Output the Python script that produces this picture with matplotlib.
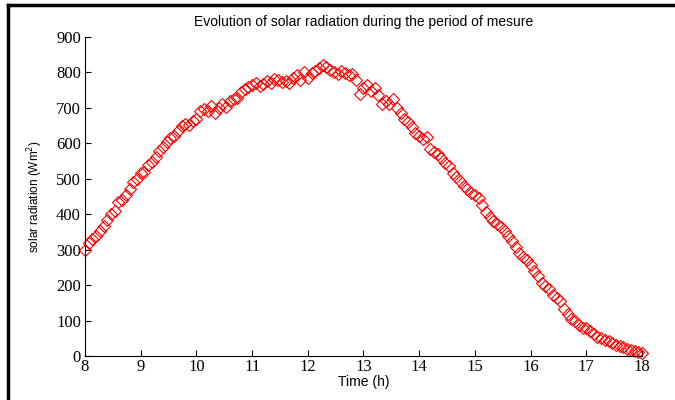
import matplotlib.pyplot as plt
from matplotlib.lines import Line2D

# -----------------------------
# Data (4 min steps from 8h to 18h)
# -----------------------------
time_h = [8 + i / 15 for i in range(151)]
radiation = [
    300, 318, 330, 338, 352, 368, 383, 400, 410, 435,
    440, 455, 470, 490, 500, 515, 520, 540, 548, 562,
    578, 590, 605, 615, 622, 635, 650, 655, 652, 662,
    668, 690, 698, 692, 705, 685, 700, 710, 702, 720,
    725, 728, 745, 752, 758, 765, 770, 762, 768, 775,
    770, 782, 778, 772, 775, 770, 785, 792, 780, 800,
    785, 798, 805, 812, 822, 815, 808, 800, 795, 805,
    798, 792, 795, 780, 740, 755, 765, 748, 755, 735,
    710, 720, 712, 725, 700, 685, 668, 660, 645, 630,
    622, 612, 618, 585, 575, 570, 560, 545, 535, 515,
    505, 495, 480, 472, 460, 455, 445, 425, 405, 392,
    380, 372, 365, 352, 338, 325, 308, 290, 280, 270,
    258, 240, 225, 205, 198, 188, 172, 165, 155, 132,
    118, 105, 98, 88, 80, 78, 70, 62, 55, 50,
    45, 42, 38, 32, 28, 25, 20, 18, 14, 12,
    8,
]
x_ticks = list(range(8, 19))
y_ticks = list(range(0, 901, 100))

# -----------------------------
# Figure
# -----------------------------
fig = plt.figure(figsize=(6.75, 4.0), dpi=100)
ax = fig.add_axes([0.126, 0.11, 0.825, 0.7975])

ax.plot(time_h, radiation, linestyle="none", marker="D", markersize=6.3,
        markerfacecolor="none", markeredgecolor="red", markeredgewidth=0.8,
        clip_on=False)

ax.set_xlim(8, 18)
ax.set_ylim(0, 900)
ax.set_xticks(x_ticks)
ax.set_yticks(y_ticks)
ax.spines["top"].set_visible(False)
ax.spines["right"].set_visible(False)
ax.tick_params(direction="in", length=4, width=0.8, labelsize=12)
ax.tick_params(axis="x", pad=2)
ax.tick_params(axis="y", pad=3)
for lbl in ax.get_xticklabels() + ax.get_yticklabels():
    lbl.set_fontfamily("Liberation Serif")

ax.set_title("Evolution of solar radiation during the period of mesure",
             fontsize=10, fontfamily="Liberation Sans", pad=8)
ax.set_xlabel("Time (h)", fontsize=10, fontfamily="Liberation Sans", labelpad=0)
ax.set_ylabel("solar radiation (Wm$^2$)", fontsize=8.5, fontfamily="Liberation Sans",
              labelpad=8)

# frame lines around the figure (top and left)
fig.add_artist(Line2D([0.012, 1.0], [0.987, 0.987], color="black", linewidth=2.5,
                      transform=fig.transFigure))
fig.add_artist(Line2D([0.012, 0.012], [0.0, 0.987], color="black", linewidth=2.5,
                      transform=fig.transFigure))

fig.savefig("out.png", dpi=100)
